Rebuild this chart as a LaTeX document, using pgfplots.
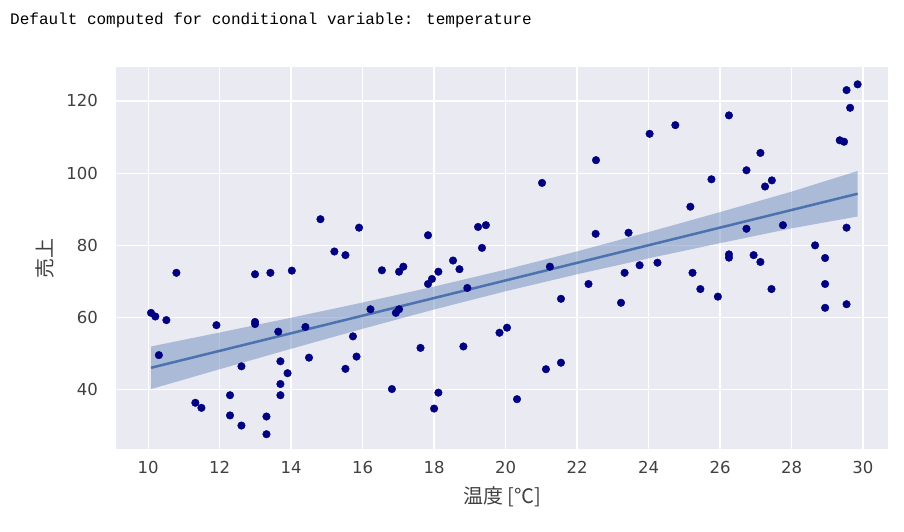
\documentclass[border=0pt]{standalone}
\usepackage{pgfplots}
\pgfplotsset{compat=1.18}
\usepackage{fontspec}
\setmainfont{Noto Sans CJK JP}
\newfontfamily\monofont{Liberation Mono}
\newfontfamily\tickfont{DejaVu Sans}
\definecolor{bg}{HTML}{EAEAF2}
\definecolor{sns}{HTML}{4C72B0}
\definecolor{pt}{HTML}{000080}
\definecolor{txt}{HTML}{404040}
\begin{document}
\begin{tikzpicture}
\useasboundingbox (0pt,0pt) rectangle (904pt,531pt);
\node[anchor=base west, font=\monofont\fontsize{16}{19}\selectfont, inner sep=0pt, text=black] at (10pt,506pt) {Default computed for conditional variable: temperature};
\begin{axis}[at={(116pt,82pt)}, anchor=south west, scale only axis, width=772pt, height=382pt,
  xmin=9.1, xmax=30.7, ymin=23.6, ymax=129.4,
  axis background/.style={fill=bg}, axis line style={draw=none}, major tick length=0pt,
  grid=major, grid style={white, line width=1.3pt},
  xtick={10,12,...,30}, ytick={40,60,...,120},
  tick label style={font=\tickfont\fontsize{16.5}{20}\selectfont, text=txt},
  xticklabel style={anchor=center, inner sep=0pt, yshift=-18pt},
  yticklabel style={anchor=east, inner sep=0pt, xshift=-18pt},
  /pgf/number format/assume math mode=true,
  xlabel={温度 [℃]}, ylabel={売上},
  label style={font=\fontsize{20}{24}\selectfont, text=txt},
  xlabel style={at={(axis description cs:0.5,0)}, anchor=center, yshift=-48pt},
  ylabel style={at={(axis description cs:0,0.5)}, anchor=center, yshift=71pt},
  clip=false
]
\addplot[fill=sns, fill opacity=0.4, draw=none] coordinates {
(10.08,52.0) (12,55.86) (14,59.96) (16,64.16) (18,68.58) (20,73.29) (22,78.33) (24,83.67) (26,89.21) (28,94.87) (29.85,100.6)
(29.85,88.0) (28,84.71) (26,80.61) (24,76.41) (22,71.99) (20,67.29) (18,62.24) (16,56.90) (14,51.36) (12,45.70) (10.08,40.2)
} -- cycle;
\addplot[sns, line width=2.5pt] coordinates {(10.08,46.1) (29.85,94.3)};
\addplot[only marks, mark=*, mark size=3.8pt, mark options={draw=pt, fill=pt}] table {
x y
10.08 61.3
10.2 60.3
10.3 49.6
10.51 59.3
10.79 72.4
11.32 36.4
11.49 35.0
11.91 57.9
12.29 38.5
12.29 32.9
12.61 46.5
12.61 30.1
12.99 72.0
12.99 58.8
12.99 58.2
13.31 32.6
13.31 27.7
13.42 72.4
13.64 56.1
13.7 47.9
13.7 41.6
13.7 38.5
13.9 44.6
14.02 73.0
14.4 57.4
14.5 48.9
14.82 87.25
15.21 78.3
15.52 77.3
15.52 45.8
15.73 54.8
15.83 49.2
15.9 84.9
16.22 62.3
16.54 73.1
16.82 40.2
16.93 61.3
17.02 62.3
17.02 72.7
17.14 74.1
17.62 51.6
17.83 82.8
17.83 69.3
17.94 70.7
18.0 34.8
18.12 72.7
18.12 39.2
18.53 75.8
18.71 73.4
18.82 52.0
18.93 68.2
19.23 85.1
19.34 79.3
19.45 85.6
19.83 55.8
20.04 57.2
20.32 37.4
21.02 97.3
21.13 45.7
21.24 74.1
21.55 65.2
21.55 47.5
22.32 69.3
22.52 83.2
22.53 103.6
23.23 64.1
23.33 72.4
23.44 83.5
23.75 74.5
24.03 110.9
24.25 75.2
24.75 113.3
25.17 90.7
25.23 72.4
25.45 67.9
25.76 98.3
25.94 65.8
26.25 116.0
26.25 77.5
26.25 76.6
26.74 100.8
26.74 84.6
26.94 77.3
27.13 105.6
27.13 75.4
27.26 96.3
27.44 67.9
27.45 98.0
27.76 85.6
28.66 80.0
28.94 76.5
28.94 69.3
28.94 62.7
29.35 109.1
29.47 108.7
29.54 123.0
29.54 84.9
29.54 63.7
29.64 118.1
29.85 124.6
};
\end{axis}
\end{tikzpicture}
\end{document}
